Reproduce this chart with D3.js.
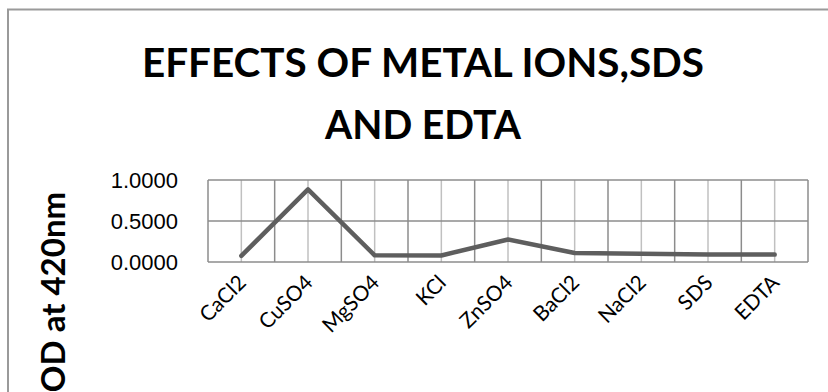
<!DOCTYPE html>
<html>
<head>
<meta charset="utf-8">
<script src="https://cdn.jsdelivr.net/npm/d3@7"></script>
<style>
  html, body { margin: 0; padding: 0; background: #ffffff; }
  svg { display: block; }
</style>
</head>
<body>
<svg id="chart" width="828" height="392"></svg>
<script>
// Absorbance at 420 nm for each additive
const categories = ["CaCl2", "CuSO4", "MgSO4", "KCl", "ZnSO4", "BaCl2", "NaCl2", "SDS", "EDTA"];
const odValues = [0.075, 0.885, 0.082, 0.080, 0.275, 0.110, 0.100, 0.092, 0.090];
const yTicks = [0, 0.5, 1.0];
const titleLines = ["EFFECTS OF METAL IONS,SDS", "AND EDTA"];
const yAxisTitle = "OD at 420nm";

const svg = d3.select("#chart");
const plot = { left: 208, top: 180, width: 600, height: 82 };

// Chart area border (extends past the visible canvas on the right and bottom)
svg.append("rect")
  .attr("x", 8).attr("y", 9.5)
  .attr("width", 900).attr("height", 500)
  .attr("fill", "#ffffff")
  .attr("stroke", "#9a9a9a")
  .attr("stroke-width", 2);

// Title
const title = svg.append("g")
  .attr("font-family", "Lato, 'Open Sans', sans-serif")
  .attr("font-weight", "bold")
  .attr("font-size", 40)
  .attr("fill", "#000000")
  .attr("text-anchor", "middle");
title.append("text").attr("x", 423).attr("y", 77)
  .attr("textLength", 562).attr("lengthAdjust", "spacingAndGlyphs")
  .text(titleLines[0]);
title.append("text").attr("x", 423).attr("y", 139)
  .attr("textLength", 196).attr("lengthAdjust", "spacingAndGlyphs")
  .text(titleLines[1]);

const x = d3.scaleBand()
  .domain(categories)
  .range([plot.left, plot.left + plot.width])
  .padding(0);

const y = d3.scaleLinear()
  .domain([0, 1])
  .range([plot.top + plot.height, plot.top]);

const g = svg.append("g");

// Minor vertical gridlines at category centres
g.append("g")
  .selectAll("line")
  .data(categories)
  .join("line")
  .attr("x1", d => x(d) + x.bandwidth() / 2)
  .attr("x2", d => x(d) + x.bandwidth() / 2)
  .attr("y1", y(0)).attr("y2", y(1))
  .attr("stroke", "#c0c0c0")
  .attr("stroke-width", 1.5);

// Major vertical gridlines at category boundaries
const bounds = categories.map(d => x(d)).concat([x.range()[1]]);
g.append("g")
  .selectAll("line")
  .data(bounds)
  .join("line")
  .attr("x1", d => d).attr("x2", d => d)
  .attr("y1", y(0)).attr("y2", y(1))
  .attr("stroke", "#8c8c8c")
  .attr("stroke-width", 1.5);

// Horizontal gridlines
g.append("g")
  .selectAll("line")
  .data(yTicks)
  .join("line")
  .attr("x1", plot.left).attr("x2", plot.left + plot.width)
  .attr("y1", d => y(d)).attr("y2", d => y(d))
  .attr("stroke", "#8c8c8c")
  .attr("stroke-width", 1.5);

// Y axis tick labels
const yAxis = d3.axisLeft(y)
  .tickValues(yTicks)
  .tickFormat(d3.format(".4f"))
  .tickSize(0)
  .tickPadding(30);
const yAxisG = svg.append("g")
  .attr("transform", `translate(${plot.left},0)`)
  .call(yAxis);
yAxisG.select(".domain").remove();
yAxisG.selectAll("text")
  .attr("font-family", "'Liberation Sans', Arial, sans-serif")
  .attr("font-size", 22)
  .attr("fill", "#000000");

// X axis category labels, rotated
const xAxis = d3.axisBottom(x).tickSize(0).tickPadding(0);
const xAxisG = svg.append("g")
  .attr("transform", `translate(0,${plot.top + plot.height})`)
  .call(xAxis);
xAxisG.select(".domain").remove();
xAxisG.selectAll("text")
  .attr("font-family", "Lato, 'Open Sans', sans-serif")
  .attr("font-size", 21)
  .attr("fill", "#000000")
  .attr("text-anchor", "end")
  .attr("dy", null)
  .attr("y", null)
  .attr("transform", "translate(6,22) rotate(-45)");

// Y axis title
svg.append("text")
  .attr("transform", "translate(52,292) rotate(-90)")
  .attr("text-anchor", "middle")
  .attr("dominant-baseline", "central")
  .attr("font-family", "Lato, 'Open Sans', sans-serif")
  .attr("font-weight", "bold")
  .attr("font-size", 33)
  .attr("fill", "#000000")
  .text(yAxisTitle);

// Data line
const line = d3.line()
  .x((d, i) => x(categories[i]) + x.bandwidth() / 2)
  .y(d => y(d));

svg.append("path")
  .datum(odValues)
  .attr("d", line)
  .attr("fill", "none")
  .attr("stroke", "#5e5e5e")
  .attr("stroke-width", 4.5)
  .attr("stroke-linejoin", "round")
  .attr("stroke-linecap", "round");
</script>
</body>
</html>
